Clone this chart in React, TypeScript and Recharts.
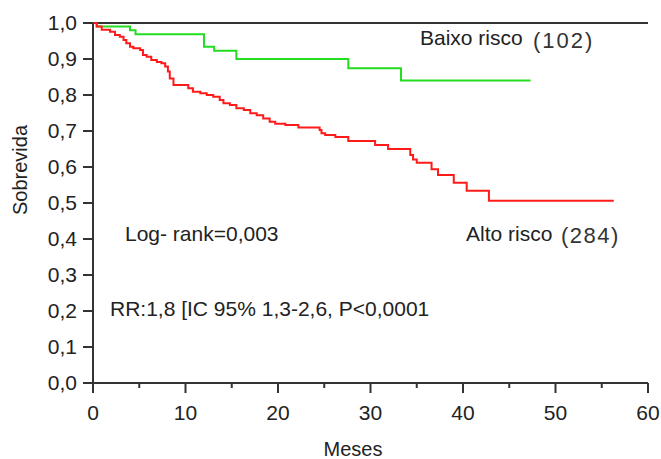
import { LineChart, Line, XAxis, YAxis, ReferenceLine } from 'recharts';

const FONT = '"Liberation Sans", Arial, sans-serif';
const INK = '#222';
const AXIS = '#333';

const lowRiskMonths = [0, 0.4, 4.0, 4.6, 12.0, 13.1, 15.5, 27.6, 33.3, 47.3];
const lowRiskSurvival = [1.0, 0.99, 0.98, 0.969, 0.934, 0.923, 0.9, 0.874, 0.84, 0.84];

const highRiskMonths = [
  0, 0.4, 0.94, 1.84, 2.38, 2.9, 3.3, 3.6, 4.0, 4.36, 5.1, 5.4, 5.8, 6.3, 6.9, 7.4, 7.8, 8.1, 8.3, 8.7,
  10.3, 10.8, 11.6, 12.3, 13.0, 13.7, 14.1, 14.8, 15.5, 16.3, 17.0, 17.7, 18.4, 19.1, 19.7, 20.8, 22.2,
  24.5, 24.7, 25.1, 26.2, 27.6, 30.5, 31.9, 34.3, 34.6, 35.0, 36.6, 37.3, 39.0, 40.4, 42.8, 56.3,
];
const highRiskSurvival = [
  1.0, 0.99, 0.981, 0.976, 0.967, 0.962, 0.953, 0.944, 0.934, 0.93, 0.925, 0.911, 0.906, 0.897, 0.892,
  0.888, 0.879, 0.865, 0.846, 0.828, 0.819, 0.809, 0.805, 0.8, 0.795, 0.786, 0.777, 0.772, 0.763, 0.758,
  0.749, 0.744, 0.735, 0.726, 0.72, 0.717, 0.71, 0.703, 0.694, 0.689, 0.683, 0.672, 0.661, 0.65, 0.633,
  0.621, 0.612, 0.594, 0.578, 0.556, 0.534, 0.506, 0.506,
];

const xTicks = [0, 5, 10, 15, 20, 25, 30, 35, 40, 45, 50, 55, 60];
const yTicks = [0, 0.1, 0.2, 0.3, 0.4, 0.5, 0.6, 0.7, 0.8, 0.9, 1.0];

const lowRisk = lowRiskMonths.map((t, i) => ({ t, s: lowRiskSurvival[i] }));
const highRisk = highRiskMonths.map((t, i) => ({ t, s: highRiskSurvival[i] }));

const commaFmt = (v: number) => v.toFixed(1).replace('.', ',');

function MonthTick(props: any) {
  const { x, y, payload } = props;
  const major = payload.value % 10 === 0;
  return (
    <g>
      <line x1={x} x2={x} y1={y} y2={y + (major ? 10 : 5)} stroke={AXIS} strokeWidth={2} />
      {major && (
        <text x={x} y={y + 37} textAnchor="middle" fontSize={21} fontFamily={FONT} fill={INK}>
          {payload.value}
        </text>
      )}
    </g>
  );
}

export default function App() {
  return (
    <div style={{ position: 'absolute', left: 0, top: 0, width: 661, height: 459, background: '#fff' }}>
      <LineChart width={661} height={459} margin={{ top: 23, right: 13, bottom: 0, left: 0 }}>
        <XAxis
          dataKey="t"
          type="number"
          domain={[0, 60]}
          ticks={xTicks}
          interval={0}
          height={76}
          tickSize={0}
          tickMargin={0}
          tickLine={false}
          tick={<MonthTick />}
          axisLine={{ stroke: AXIS, strokeWidth: 2 }}
          allowDataOverflow
        />
        <YAxis
          dataKey="s"
          type="number"
          domain={[0, 1]}
          ticks={yTicks}
          interval={0}
          width={93}
          tickSize={10}
          tickMargin={6}
          tickFormatter={commaFmt}
          tick={{ fontSize: 21, fontFamily: FONT, fill: INK }}
          tickLine={{ stroke: AXIS, strokeWidth: 2 }}
          axisLine={{ stroke: AXIS, strokeWidth: 2 }}
        />
        <ReferenceLine y={1} stroke={AXIS} strokeWidth={2} />
        <Line
          data={lowRisk}
          dataKey="s"
          type="stepAfter"
          stroke="#22dd22"
          strokeWidth={2}
          dot={false}
          isAnimationActive={false}
        />
        <Line
          data={highRisk}
          dataKey="s"
          type="stepAfter"
          stroke="#ff1a1a"
          strokeWidth={2}
          dot={false}
          isAnimationActive={false}
        />
        <text
          x={20}
          y={170}
          transform="rotate(-90 20 170)"
          textAnchor="middle"
          dominantBaseline="central"
          fontSize={20}
          fontFamily={FONT}
          fill={INK}
        >
          Sobrevida
        </text>
        <text x={353} y={456} textAnchor="middle" fontSize={20} fontFamily={FONT} fill={INK}>
          Meses
        </text>
        <text x={420} y={45} fontSize={21} fontFamily={FONT} fill={INK}>
          Baixo risco
        </text>
        <text x={533} y={48} fontSize={22} fontFamily={FONT} fill="#333" letterSpacing={2}>
          (102)
        </text>
        <text x={466} y={241} fontSize={21} fontFamily={FONT} fill={INK}>
          Alto risco
        </text>
        <text x={561} y={243} fontSize={22} fontFamily={FONT} fill="#333" letterSpacing={1.5}>
          (284)
        </text>
        <text x={125} y={241} fontSize={21} fontFamily={FONT} fill={INK}>
          Log- rank=0,003
        </text>
        <text x={110} y={316} fontSize={21} fontFamily={FONT} fill={INK}>
          RR:1,8 [IC 95% 1,3-2,6, P&lt;0,0001
        </text>
      </LineChart>
    </div>
  );
}
